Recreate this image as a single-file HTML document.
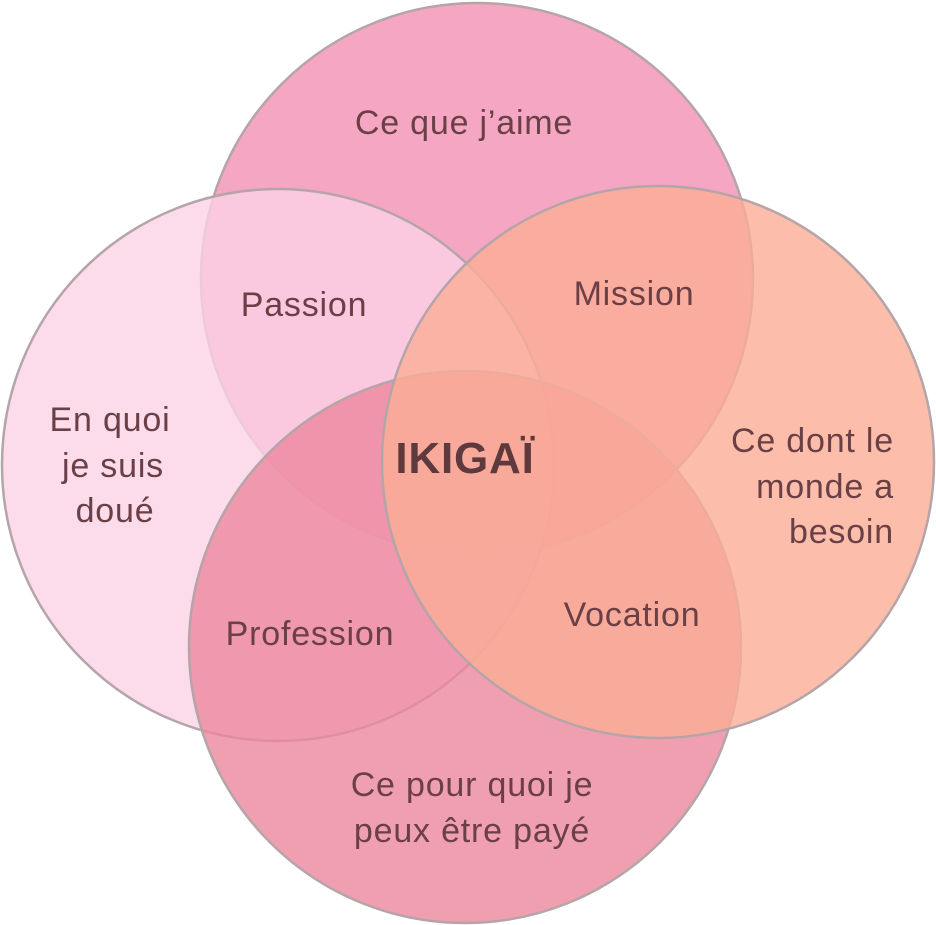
<!DOCTYPE html>
<html><head><meta charset="utf-8"><style>
html,body{margin:0;padding:0;background:#fff;}
svg{display:block;}
text{font-family:"Liberation Sans",sans-serif;fill:#6a3f45;font-size:34px;letter-spacing:0.8px;}
</style></head><body>
<svg width="936" height="925" viewBox="0 0 936 925">
<g stroke="#b5a4a8" stroke-width="2.5">
<circle cx="477" cy="279" r="276" fill="#f190b4" fill-opacity="0.8"/>
<circle cx="278" cy="465" r="276" fill="#fbd2e6" fill-opacity="0.8"/>
<circle cx="465" cy="647" r="276" fill="#ec879e" fill-opacity="0.8"/>
<circle cx="658" cy="462" r="276" fill="#fbae96" fill-opacity="0.8"/>
</g>
<text x="464" y="134" text-anchor="middle">Ce que j’aime</text>
<text x="304" y="316" text-anchor="middle">Passion</text>
<text x="634" y="305" text-anchor="middle">Mission</text>
<text x="110" y="431" text-anchor="middle">En quoi</text>
<text x="113" y="477" text-anchor="middle">je suis</text>
<text x="115" y="522" text-anchor="middle">doué</text>
<text x="894" y="452" text-anchor="end">Ce dont le</text>
<text x="894" y="498" text-anchor="end">monde a</text>
<text x="894" y="543" text-anchor="end">besoin</text>
<text x="465" y="473" text-anchor="middle" font-weight="bold" style="font-size:44px;fill:#5e3a3e">IKIGAÏ</text>
<text x="310" y="645" text-anchor="middle">Profession</text>
<text x="632" y="626" text-anchor="middle">Vocation</text>
<text x="472" y="796" text-anchor="middle">Ce pour quoi je</text>
<text x="472" y="842" text-anchor="middle">peux être payé</text>
</svg>
</body></html>
